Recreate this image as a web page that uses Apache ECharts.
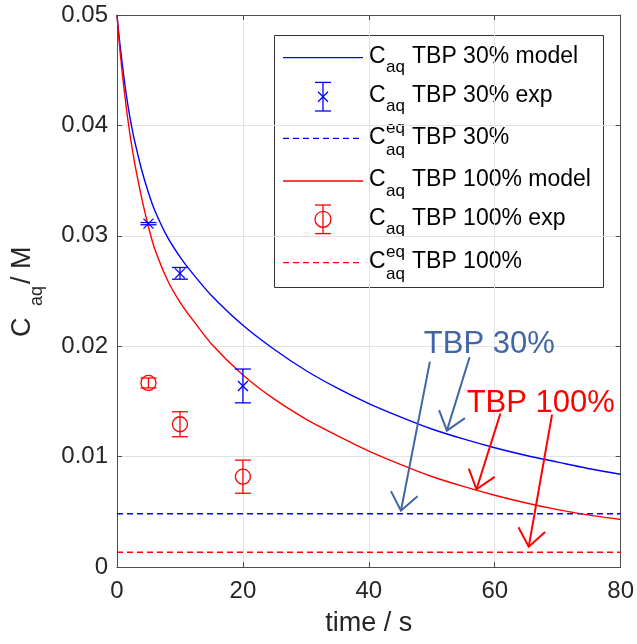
<!DOCTYPE html>
<html><head><meta charset="utf-8">
<script src="https://cdn.jsdelivr.net/npm/echarts@6/dist/echarts.min.js"></script>
<style>html,body{margin:0;padding:0;background:#fff}#c{width:637px;height:644px}</style>
</head><body><div id="c"></div>
<script>
// ---- data ----
const tModel    = [0, 0.25, 0.5, 1, 1.5, 2, 2.5, 3, 4, 5, 6, 8, 10, 12, 15, 20, 25, 30, 35, 40, 45, 50, 55, 60, 65, 70, 75, 80];
const blueModel = [0.05, 0.0485, 0.0472, 0.0448, 0.0427, 0.0409, 0.0394, 0.0381, 0.0358, 0.0339, 0.0323, 0.0299, 0.0281, 0.0266, 0.0246, 0.0219, 0.0197, 0.0178, 0.0162, 0.0148, 0.0136, 0.0125, 0.0116, 0.0108, 0.0101, 0.0095, 0.0089, 0.0084];
const redModel  = [0.05, 0.0482, 0.0466, 0.0439, 0.0415, 0.0394, 0.0376, 0.0360, 0.0332, 0.0308, 0.0288, 0.0260, 0.0240, 0.0224, 0.0202, 0.0174, 0.0152, 0.0134, 0.0119, 0.0105, 0.0093, 0.0082, 0.0073, 0.0065, 0.0058, 0.0052, 0.0047, 0.0043];
const expT      = [5, 10, 20];
const blueExp   = [0.0311, 0.0266, 0.0164];
const blueErr   = [0.0001, 0.00053, 0.00153];
const redExp    = [0.01667, 0.01293, 0.00818];
const redErr    = [0.00045, 0.00113, 0.0015];
const blueEq    = 0.00483;
const redEq     = 0.00133;
const xRange    = [0, 80];
const yTicks    = [0, 0.01, 0.02, 0.03, 0.04, 0.05];
const yTickLabels = ['0', '0.01', '0.02', '0.03', '0.04', '0.05'];
const legendLabels = ['TBP 30% model', 'TBP 30% exp', 'TBP 30%', 'TBP 100% model', 'TBP 100% exp', 'TBP 100%'];
const annotationLabels = ['TBP 30%', 'TBP 100%'];
const annotationLabelAt = [[48.9, 0.02016], [55.7, 0.01483]];
const blueArrows = [[49.7, 0.0186, 45.1, 0.0051], [56.0, 0.0190, 52.4, 0.01235]];
const redArrows  = [[60.9, 0.0139, 57.1, 0.00704], [69.1, 0.0138, 65.4, 0.00184]];

// ---- styling ----
const FONT = '"Liberation Sans", Arial, Helvetica, sans-serif';
const BLUE = '#0000ff', RED = '#ff0000', ABLUE = '#4066a6';
const AX = '#4d4d4d', TXT = '#262626', GRID = '#e3e3e3';

const chart = echarts.init(document.getElementById('c'), null, {renderer: 'canvas'});

function zip(a, b) { return a.map((v, i) => [v, b[i]]); }

function errRender(kind, color) {
  return function (params, api) {
    const t = api.value(0), v = api.value(1), e = api.value(2);
    const c = api.coord([t, v]), top = api.coord([t, v + e]), bot = api.coord([t, v - e]);
    const cw = 8, st = {stroke: color, lineWidth: 1.3, fill: null};
    const ch = [
      {type: 'line', shape: {x1: c[0], y1: top[1], x2: c[0], y2: bot[1]}, style: st},
      {type: 'line', shape: {x1: c[0] - cw, y1: top[1], x2: c[0] + cw, y2: top[1]}, style: st},
      {type: 'line', shape: {x1: c[0] - cw, y1: bot[1], x2: c[0] + cw, y2: bot[1]}, style: st}
    ];
    if (kind === 'x') {
      const s = 5;
      ch.push({type: 'line', shape: {x1: c[0] - s, y1: c[1] - s, x2: c[0] + s, y2: c[1] + s}, style: st});
      ch.push({type: 'line', shape: {x1: c[0] - s, y1: c[1] + s, x2: c[0] + s, y2: c[1] - s}, style: st});
    } else {
      ch.push({type: 'circle', shape: {cx: c[0], cy: c[1], r: 7.5}, style: {stroke: color, lineWidth: 1.3, fill: null}});
    }
    return {type: 'group', children: ch};
  };
}

function arrowRender(color) {
  return function (params, api) {
    const p1 = api.coord([api.value(0), api.value(1)]);
    const p2 = api.coord([api.value(2), api.value(3)]);
    const dx = p1[0] - p2[0], dy = p1[1] - p2[1], L = Math.hypot(dx, dy);
    const ux = dx / L, uy = dy / L, a = 38 * Math.PI / 180, hl = 22;
    const h1 = [p2[0] + hl * (ux * Math.cos(a) - uy * Math.sin(a)), p2[1] + hl * (ux * Math.sin(a) + uy * Math.cos(a))];
    const h2 = [p2[0] + hl * (ux * Math.cos(-a) - uy * Math.sin(-a)), p2[1] + hl * (ux * Math.sin(-a) + uy * Math.cos(-a))];
    const st = {stroke: color, lineWidth: 2, fill: null};
    return {type: 'group', children: [
      {type: 'polyline', shape: {points: [p1, p2]}, style: st},
      {type: 'polyline', shape: {points: [h1, p2, h2]}, style: st}
    ]};
  };
}

function labelRender(colors) {
  return function (params, api) {
    const p = api.coord([api.value(0), api.value(1)]);
    return {type: 'text', x: p[0] - 1, y: p[1], style: {
      text: annotationLabels[params.dataIndex], fill: colors[params.dataIndex],
      font: '31px ' + FONT, verticalAlign: 'middle', align: 'left'}};
  };
}

// ---- legend (drawn as graphic) ----
const legX0 = 274.5, legY0 = 35.5, legW = 329, legH = 252;
const rowY = [57.7, 96.7, 138.3, 181, 219.3, 262.7];
const legColors = [BLUE, BLUE, BLUE, RED, RED, RED];
const legKinds = ['line', 'errx', 'dash', 'line', 'erro', 'dash'];
const legG = [{type: 'rect', shape: {x: legX0, y: legY0, width: legW, height: legH},
  style: {fill: '#fff', stroke: '#333', lineWidth: 1}}];
legKinds.forEach((k, i) => {
  const y = rowY[i], col = legColors[i];
  if (k === 'line' || k === 'dash') {
    legG.push({type: 'line', shape: {x1: 283, y1: y, x2: 363, y2: y},
      style: {stroke: col, lineWidth: 1.3, lineDash: k === 'dash' ? [6, 4] : null}});
  } else {
    const cx = 323, hh = 14.3, st = {stroke: col, lineWidth: 1.3, fill: null};
    legG.push({type: 'line', shape: {x1: cx, y1: y - hh, x2: cx, y2: y + hh}, style: st});
    legG.push({type: 'line', shape: {x1: cx - 8, y1: y - hh, x2: cx + 8, y2: y - hh}, style: st});
    legG.push({type: 'line', shape: {x1: cx - 8, y1: y + hh, x2: cx + 8, y2: y + hh}, style: st});
    if (k === 'errx') {
      legG.push({type: 'line', shape: {x1: cx - 5, y1: y - 5, x2: cx + 5, y2: y + 5}, style: st});
      legG.push({type: 'line', shape: {x1: cx - 5, y1: y + 5, x2: cx + 5, y2: y - 5}, style: st});
    } else {
      legG.push({type: 'circle', shape: {cx: cx, cy: y, r: 8}, style: st});
    }
  }
  const hasSup = (k === 'dash');
  const ty = y - 1;
  legG.push({type: 'text', x: 369, y: ty, style: {text: 'C', font: '23px ' + FONT, fill: '#000', verticalAlign: 'middle'}});
  legG.push({type: 'text', x: 386, y: ty + (hasSup ? 13 : 11), style: {text: 'aq', font: '17px ' + FONT, fill: '#000', verticalAlign: 'middle'}});
  if (hasSup) legG.push({type: 'text', x: 386, y: ty - 9, style: {text: 'eq', font: '17px ' + FONT, fill: '#000', verticalAlign: 'middle'}});
  legG.push({type: 'text', x: 412, y: ty, style: {text: legendLabels[i], font: '23px ' + FONT, fill: '#000', verticalAlign: 'middle'}});
});

// y-axis title with subscript
const yTitle = {type: 'group', x: 23, y: 292, rotation: Math.PI / 2, children: [
  {type: 'text', x: -45, y: 0, style: {text: 'C', font: '27px ' + FONT, fill: TXT, verticalAlign: 'middle'}},
  {type: 'text', x: -14, y: 14, style: {text: 'aq', font: '18px ' + FONT, fill: TXT, verticalAlign: 'middle'}},
  {type: 'text', x: 8, y: 0, style: {text: '/ M', font: '27px ' + FONT, fill: TXT, verticalAlign: 'middle'}}
]};

const axCommon = {
  axisLine: {show: true, onZero: false, lineStyle: {color: AX, width: 1}},
  axisTick: {show: true, inside: true, length: 5, lineStyle: {color: AX, width: 1}}
};

const option = {
  animation: false,
  backgroundColor: '#fff',
  grid: {left: 117, right: 15, top: 15, bottom: 77, containLabel: false},
  xAxis: [
    Object.assign({type: 'value', min: xRange[0], max: xRange[1], interval: 20, position: 'bottom',
      axisLabel: {fontSize: 24, color: TXT, margin: 12, fontFamily: FONT},
      splitLine: {show: true, lineStyle: {color: GRID, width: 1}},
      name: 'time / s', nameLocation: 'middle', nameGap: 43,
      nameTextStyle: {fontSize: 27, color: TXT, fontFamily: FONT}}, axCommon),
    Object.assign({type: 'value', min: xRange[0], max: xRange[1], interval: 20, position: 'top',
      axisLabel: {show: false}, splitLine: {show: false}}, axCommon)
  ],
  yAxis: [
    Object.assign({type: 'value', min: yTicks[0], max: yTicks[yTicks.length - 1], interval: 0.01, position: 'left',
      axisLabel: {fontSize: 24, color: TXT, margin: 9, fontFamily: FONT,
        formatter: v => { const i = yTicks.findIndex(t => Math.abs(t - v) < 1e-9); return i >= 0 ? yTickLabels[i] : ''; }},
      splitLine: {show: true, lineStyle: {color: GRID, width: 1}}}, axCommon),
    Object.assign({type: 'value', min: yTicks[0], max: yTicks[yTicks.length - 1], interval: 0.01, position: 'right',
      axisLabel: {show: false}, splitLine: {show: false}}, axCommon)
  ],
  series: [
    {name: 'blueModel', type: 'line', data: zip(tModel, blueModel), smooth: 0.2, showSymbol: false,
      lineStyle: {color: BLUE, width: 1.4}, z: 3},
    {name: 'blueExp', type: 'custom', data: expT.map((t, i) => [t, blueExp[i], blueErr[i]]),
      renderItem: errRender('x', BLUE), encode: {x: 0, y: 1}, z: 4},
    {name: 'blueEq', type: 'line', data: [[xRange[0], blueEq], [xRange[1], blueEq]], showSymbol: false,
      lineStyle: {color: BLUE, width: 1.4, type: [6, 4]}, z: 3},
    {name: 'redModel', type: 'line', data: zip(tModel, redModel), smooth: 0.2, showSymbol: false,
      lineStyle: {color: RED, width: 1.4}, z: 3},
    {name: 'redExp', type: 'custom', data: expT.map((t, i) => [t, redExp[i], redErr[i]]),
      renderItem: errRender('o', RED), encode: {x: 0, y: 1}, z: 4},
    {name: 'redEq', type: 'line', data: [[xRange[0], redEq], [xRange[1], redEq]], showSymbol: false,
      lineStyle: {color: RED, width: 1.4, type: [6, 4]}, z: 3},
    {name: 'blueArrows', type: 'custom', data: blueArrows, renderItem: arrowRender(ABLUE),
      encode: {x: [0, 2], y: [1, 3]}, z: 5, clip: false},
    {name: 'redArrows', type: 'custom', data: redArrows, renderItem: arrowRender(RED),
      encode: {x: [0, 2], y: [1, 3]}, z: 5, clip: false},
    {name: 'labels', type: 'custom', data: annotationLabelAt, renderItem: labelRender([ABLUE, RED]),
      encode: {x: 0, y: 1}, z: 6, clip: false}
  ],
  graphic: [{type: 'group', z: 50, children: legG}, yTitle]
};
chart.setOption(option);
</script></body></html>
